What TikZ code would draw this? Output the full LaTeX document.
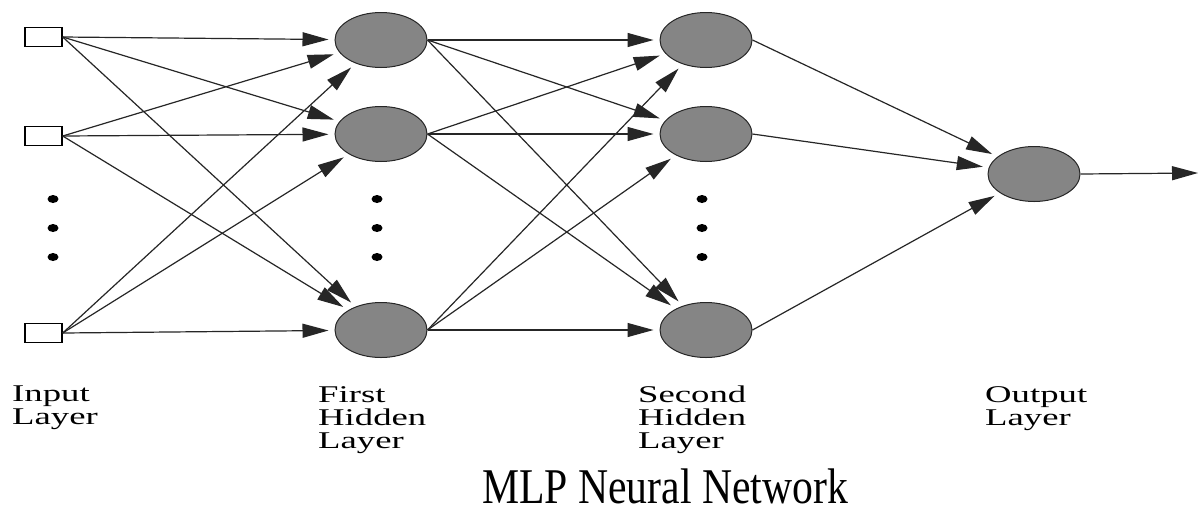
\documentclass[tikz,border=0pt]{standalone}
\usepackage{fontspec}
\setmainfont{Liberation Serif}
\newfontfamily\labfont[FakeStretch=1.53]{Liberation Serif}
\newfontfamily\titfont[FakeStretch=0.834]{Liberation Serif}
\usetikzlibrary{shapes.geometric,arrows.meta}
\begin{document}
\begin{tikzpicture}[x=1pt,y=1pt,
  inbox/.style={draw=black,fill=white,line width=1.4pt,minimum width=37pt,minimum height=19pt,inner sep=0pt},
  neuron/.style={ellipse,draw=black!85,fill=black!48,line width=1pt,minimum width=92pt,minimum height=55pt,inner sep=0pt},
  vdot/.style={ellipse,fill=black,minimum width=11pt,minimum height=8pt,inner sep=0pt},
  conn/.style={draw=black!85,line width=1.2pt,-{Triangle[length=26pt,width=14pt]},shorten >=6pt},
  lab/.style={anchor=north west,inner sep=0pt,align=left,font=\labfont\fontsize{24}{23}\selectfont},
  title/.style={anchor=base west,inner sep=0pt,text depth=0pt,font=\titfont\fontsize{50}{55}\selectfont}]
\fill[white] (0,0) rectangle (1201,-515);
\useasboundingbox (0,0) rectangle (1201,-515);
% input layer
\node[inbox] (i1) at (43.5,-37) {};
\node[inbox] (i2) at (43.5,-136) {};
\node[inbox] (i3) at (43.5,-333) {};
% first hidden layer
\node[neuron] (a1) at (381,-40) {};
\node[neuron] (a2) at (381,-134) {};
\node[neuron] (a3) at (381,-330) {};
% second hidden layer
\node[neuron] (b1) at (706,-40) {};
\node[neuron] (b2) at (706,-134) {};
\node[neuron] (b3) at (706,-330) {};
% output layer
\node[neuron] (o) at (1034,-174) {};
\coordinate (oend) at (1198,-173);
% dots
\node[vdot] (di1) at (53,-199) {};
\node[vdot] (di2) at (53,-228) {};
\node[vdot] (di3) at (53,-257) {};
\node[vdot] (da1) at (377,-199) {};
\node[vdot] (da2) at (377,-228) {};
\node[vdot] (da3) at (377,-257) {};
\node[vdot] (db1) at (702,-199) {};
\node[vdot] (db2) at (702,-228) {};
\node[vdot] (db3) at (702,-257) {};
% connections
\foreach \s in {i1,i2,i3}{
  \foreach \t in {a1,a2,a3}{
    \draw[conn] (\s.east) -- (\t);
  }
}
\foreach \s in {a1,a2,a3}{
  \foreach \t in {b1,b2,b3}{
    \draw[conn] (\s.east) -- (\t);
  }
}
\foreach \s in {b1,b2,b3}{
  \draw[conn] (\s.east) -- (o);
}
\draw[conn,shorten >=0pt] (o.east) -- (oend);
% labels
\node[lab] (l1) at (12,-386) {Input\\Layer};
\node[lab] (l2) at (318,-386) {First\\Hidden\\Layer};
\node[lab] (l3) at (638,-386) {Second\\Hidden\\Layer};
\node[lab] (l4) at (985,-386) {Output\\Layer};
\node[title] (t) at (482,-503) {MLP Neural Network};
\end{tikzpicture}
\end{document}
